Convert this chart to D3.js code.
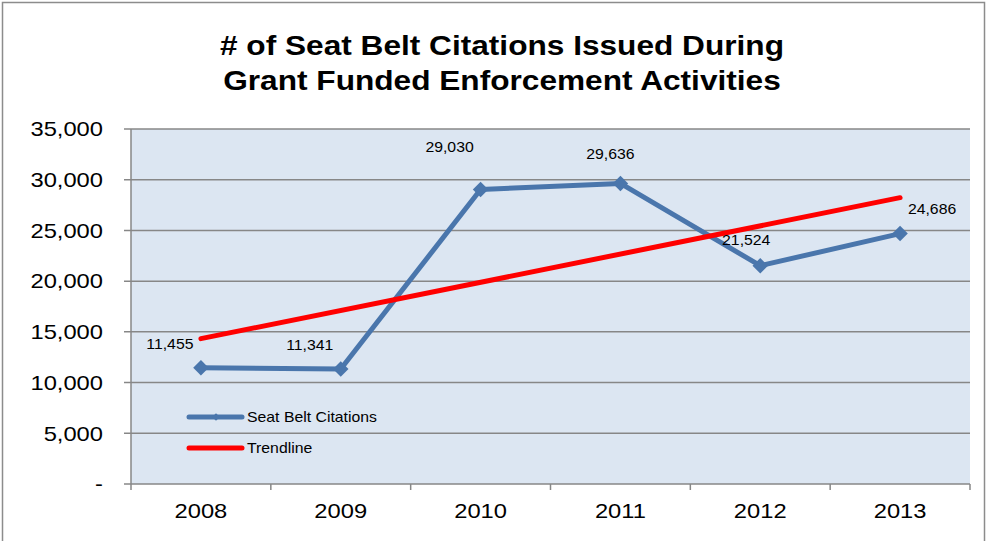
<!DOCTYPE html>
<html>
<head>
<meta charset="utf-8">
<style>
body { margin: 0; background: #fff; }
svg { font-family: "Liberation Sans", Arial, sans-serif; }
.axis path { display: none; }
.axis text { font-size: 21px; fill: #000; }
</style>
<script src="https://cdn.jsdelivr.net/npm/d3@7"></script>
</head>
<body>
<svg width="987" height="541"></svg>
<script>

var years = ["2008", "2009", "2010", "2011", "2012", "2013"];
var citations = [11455, 11341, 29030, 29636, 21524, 24686];
var yTicks = [0, 5000, 10000, 15000, 20000, 25000, 30000, 35000];
var titleLines = ["# of Seat Belt Citations Issued During", "Grant Funded Enforcement Activities"];
var legendItems = [
  {text: "Seat Belt Citations", color: "#4A76AC"},
  {text: "Trendline", color: "#FF0000"}
];

// label offsets relative to each point (dx, dy)
var labelOffsets = [[-31, -19], [-31, -19], [-31, -38], [-10, -24], [-14, -21], [32, -20]];

// the reference text is a bit wider than it is tall
var SX = 1.13;
function stretch(sel) {
  sel.attr("transform", function() {
    var tx = +this.getAttribute("x") || 0;
    return "translate(" + tx + ",0) scale(" + SX + ",1) translate(" + (-tx) + ",0)";
  });
}

var svg = d3.select("svg"),
    margin = {top: 129, right: 17, bottom: 57, left: 131},
    width = +svg.attr("width") - margin.left - margin.right,
    height = +svg.attr("height") - margin.top - margin.bottom;

// outer frame
svg.append("rect")
    .attr("x", 2.5).attr("y", 2.5)
    .attr("width", 982).attr("height", 545)
    .attr("fill", "none")
    .attr("stroke", "#8c8c8c")
    .attr("stroke-width", 1.5);

svg.selectAll(".title")
  .data(titleLines)
  .enter().append("text")
    .attr("class", "title")
    .attr("text-anchor", "middle")
    .attr("font-weight", "bold")
    .attr("font-size", "28px")
    .attr("x", 502)
    .attr("y", function(d, i) { return 55 + i * 35; })
    .text(function(d) { return d; })
    .call(stretch);

var x = d3.scaleBand().domain(years).range([0, width]),
    y = d3.scaleLinear().domain([0, 35000]).range([height, 0]);

var g = svg.append("g")
    .attr("transform", "translate(" + margin.left + "," + margin.top + ")");

g.append("rect")
    .attr("width", width).attr("height", height)
    .attr("fill", "#DCE6F2");

// gridlines
g.selectAll(".grid")
  .data(yTicks)
  .enter().append("line")
    .attr("class", "grid")
    .attr("x1", -7).attr("x2", width)
    .attr("y1", function(d) { return y(d); })
    .attr("y2", function(d) { return y(d); })
    .attr("stroke", "#878787")
    .attr("stroke-width", 1.5);

g.append("line")
    .attr("x1", 0).attr("x2", 0)
    .attr("y1", 0).attr("y2", height)
    .attr("stroke", "#878787").attr("stroke-width", 1.5);

// x ticks at band boundaries
var bounds = years.map(function(d) { return x(d); }).concat([width]);
g.selectAll(".xtick")
  .data(bounds)
  .enter().append("line")
    .attr("x1", function(d) { return d; })
    .attr("x2", function(d) { return d; })
    .attr("y1", height).attr("y2", height + 6)
    .attr("stroke", "#878787").attr("stroke-width", 1.5);

var fmt = d3.format(",");
g.append("g")
    .attr("class", "axis")
    .call(d3.axisLeft(y).tickValues(yTicks).tickSize(0).tickPadding(28)
      .tickFormat(function(d) { return d === 0 ? "-" : fmt(d); }))
  .selectAll("text").call(stretch);

g.append("g")
    .attr("class", "axis")
    .attr("transform", "translate(0," + height + ")")
    .call(d3.axisBottom(x).tickSize(0).tickPadding(19))
  .selectAll("text").call(stretch);

// linear trendline (least squares)
var n = citations.length,
    mx = (n + 1) / 2,
    my = d3.mean(citations),
    sxy = d3.sum(citations, function(v, i) { return (i + 1 - mx) * (v - my); }),
    sxx = d3.sum(citations, function(v, i) { return (i + 1 - mx) * (i + 1 - mx); }),
    slope = sxy / sxx,
    icpt = my - slope * mx;

var cx = function(i) { return x(years[i]) + x.bandwidth() / 2; };

var line = d3.line()
    .x(function(d, i) { return cx(i); })
    .y(function(d) { return y(d); });

g.append("path")
    .datum(citations)
    .attr("fill", "none")
    .attr("stroke", legendItems[0].color)
    .attr("stroke-width", 5)
    .attr("stroke-linejoin", "round")
    .attr("d", line);

g.append("line")
    .attr("x1", cx(0)).attr("y1", y(icpt + slope * 1))
    .attr("x2", cx(n - 1)).attr("y2", y(icpt + slope * n))
    .attr("stroke", legendItems[1].color)
    .attr("stroke-width", 5)
    .attr("stroke-linecap", "round");

var diamond = d3.symbol().type(d3.symbolSquare).size(120);
g.selectAll(".pt")
  .data(citations)
  .enter().append("path")
    .attr("class", "pt")
    .attr("d", diamond)
    .attr("transform", function(d, i) { return "translate(" + cx(i) + "," + y(d) + ") rotate(45)"; })
    .attr("fill", legendItems[0].color);

g.selectAll(".lbl")
  .data(citations)
  .enter().append("text")
    .attr("class", "lbl")
    .attr("text-anchor", "middle")
    .attr("font-size", "14px")
    .attr("x", function(d, i) { return cx(i) + labelOffsets[i][0]; })
    .attr("y", function(d, i) { return y(d) + labelOffsets[i][1]; })
    .text(function(d) { return fmt(d); })
    .call(stretch);

// legend
var lg = svg.append("g").attr("transform", "translate(189,417)");
legendItems.forEach(function(e, i) {
  lg.append("line")
    .attr("x1", 0).attr("x2", 53)
    .attr("y1", i * 31).attr("y2", i * 31)
    .attr("stroke", e.color).attr("stroke-width", 5)
    .attr("stroke-linecap", "round");
  if (i === 0) {
    lg.append("path")
      .attr("d", d3.symbol().type(d3.symbolSquare).size(30))
      .attr("transform", "translate(27,0) rotate(45)")
      .attr("fill", e.color);
  }
  lg.append("text")
    .attr("x", 58).attr("y", i * 31)
    .attr("dy", "0.35em")
    .attr("font-size", "14px")
    .text(e.text)
    .call(stretch);
});

</script>
</body>
</html>
